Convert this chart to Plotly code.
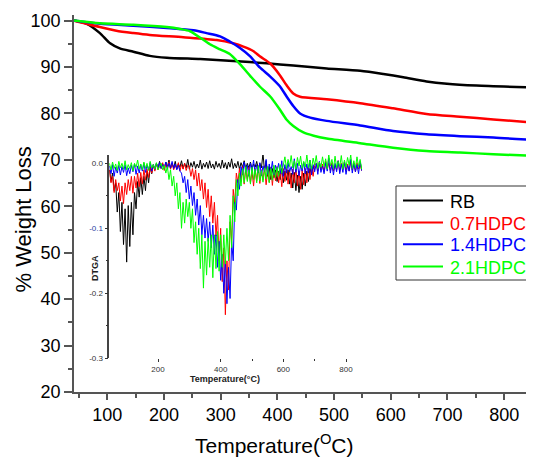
import plotly.graph_objects as go

# ---------------- main TGA curves ----------------
rb_temp = [41, 64, 87, 105, 122, 146, 175, 205, 264, 322, 381, 428, 487, 546, 587, 622, 663, 699, 751, 846]
rb_wt = [100, 99.3, 97.3, 95.1, 94.0, 93.3, 92.4, 92.0, 91.7, 91.3, 90.8, 90.3, 89.7, 89.2, 88.5, 87.8, 86.9, 86.4, 86.0, 85.6]

h07_temp = [41, 87, 116, 146, 175, 234, 293, 322, 340, 358, 369, 387, 404, 416, 428, 440, 487, 546, 604, 663, 722, 781, 846]
h07_wt = [100, 98.6, 97.8, 97.3, 96.9, 96.4, 95.8, 95.1, 94.4, 93.4, 92.3, 90.8, 88.3, 86.1, 84.3, 83.6, 83.05, 82.2, 81.1, 79.9, 79.3, 78.7, 78.1]

h14_temp = [41, 87, 146, 205, 252, 275, 299, 316, 334, 352, 369, 387, 404, 416, 428, 440, 458, 487, 546, 604, 663, 722, 781, 846]
h14_wt = [100, 99.3, 98.9, 98.4, 97.9, 97.3, 96.6, 95.5, 94.1, 92.3, 89.9, 88.0, 85.9, 83.7, 81.6, 80.0, 79.1, 78.4, 77.4, 76.2, 75.5, 75.1, 74.8, 74.3]

h21_temp = [41, 87, 146, 205, 228, 246, 264, 281, 299, 316, 334, 352, 369, 387, 404, 416, 428, 446, 464, 487, 546, 604, 663, 722, 781, 846]
h21_wt = [100, 99.4, 99.1, 98.6, 98.2, 97.7, 96.3, 94.9, 93.8, 92.8, 90.6, 88.1, 85.8, 83.7, 80.9, 78.7, 77.3, 75.9, 75.2, 74.6, 73.6, 72.6, 71.9, 71.6, 71.2, 70.9]

series_names = ["RB", "0.7HDPC", "1.4HDPC", "2.1HDPC"]
series_colors = ["#000000", "#ff0000", "#0000ff", "#00ff00"]

# ---------------- inset DTGA (read in thousandths, noisy signal) ----------------
dtga_temp = list(range(45, 860, 5))  # sampling grid 45..855 °C

dtga_rb_milli = [
    -10, -28, -15, -42, -30, -75, -45, -105, -60, -125, -70, -152, -65, -128, -60, -110, -45, -70, -28, -52,
    -22, -48, -20, -42, -12, -30, -6, -16, -2, -10,
    0, -8, 3, -7, -1, -9, 2, -6, 5, -8, 0, -7, 3, -9, -1, -6, 4, -8, 0, -7,
    6, -9, 1, -6, 3, -8, -1, -7, 5, -9, 0, -6, 2, -8, 4, -7, -1, -9, 3, -6,
    0, -8, 5, -7, 1, -9, 2, -6, 7, -8, 0, -7, 3, -9, 1, -6, 4, -8, 0, -7,
    2, -9, -1, -6, 3, -8, 0, -7,
    15, -12, 4, -20, -5, -25, -8, -22, -10, -28, -12, -25, -8, -30, -12, -26, -10, -32, -15, -38,
    -14, -42, -18, -45, -20, -40, -15, -35, -12, -28, -8, -18, -5, -10,
]
dtga_h07_milli = [
    -10, -30, -20, -45, -25, -42, -30, -58, -35, -62, -30, -48, -25, -42, -20, -46, -20, -38, -15, -36,
    -14, -32, -10, -26, -9, -22, -5, -15, -3, -12,
    0, -10, -2, -8, 1, -11, -1, -7, 2, -9, 0, -10, -3, -8, 1, -12, -2, -9, 0, -11, -3,
    -5, -20, -8, -25, -10, -35, -15, -42, -25, -55, -30, -68, -40, -82, -50, -92, -60, -112, -80, -150,
    -100, -182, -130, -233, -150, -195, -90, -120, -40, -62, -15, -30,
    -8, -28, -5, -32, -10, -25, -6, -30, -12, -35, -8, -27, -4, -31, -10, -26, -7, -33, -11, -29,
    -6, -34, -9, -27, -5, -30, -12, -36, -8, -28, -6, -32, -10, -38, -9, -30, -7, -35, -12, -40,
    -10, -33, -8, -30, -6, -25, -5, -20, -3,
    0, -12, 2, -10, -1, -13, 3, -9, 0, -11, 1, -12, -2, -10, 4, -13, 0, -9, 2, -11,
    -1, -12, 3, -10, 0, -13, 1, -9, -2, -11, 0,
]
dtga_h14_milli = [
    -4, -16, -2, -20, -6, -15, -3, -18, -5, -14, -2, -19, -7, -16, -3, -13, -1, -17, -4, -15,
    -2, -12, 0, -14, -3, -10, 1, -12, -2, -9, 0,
    -7, 1, -8, -2, -6, 2, -9, 0, -7, 3, -8, -1, -10, -3, -12,
    -15, -30, -20, -45, -25, -55, -35, -65, -45, -80, -55, -95, -65, -110, -80, -115, -85, -120, -90, -130,
    -95, -140, -110, -160, -120, -180, -140, -200, -150, -216, -160, -208, -120, -150, -60, -72, -25, -40,
    -5, -18, 2, -14, -3, -20, 0, -12, 5, -16, -2, -15, 1, -19, -4, -13, 6, -17, -1, -14,
    3, -18, -3, -12, 0, -16, 4, -20, -2, -15, 1, -13, -5, -17, 7, -14, 0, -19, -3, -12,
    2, -16, -1, -15, 5, -18, -2, -13, 0, -17, 3, -14, -4, -16, 1, -12, 8, -15, -2, -18,
    0, -13, 4, -16, -1, -14, 2, -17, -3, -12, 6, -15, 0, -13, -2, -16, 3, -11, -1,
]
dtga_h21_milli = [
    0, -10, 2, -8, -1, -11, 3, -7, 0, -9, 4, -10, -2, -8, 1, -12, 0, -6, 5, -9,
    -1, -10, 2, -8, 0, -11, 3, -7, -2, -9, 1, -10,
    -5, 0, -10, -3, -15, -5, -25, -10, -35, -20, -50, -30, -70, -45, -100, -60, -92, -55, -82, -60,
    -100, -70, -122, -90, -140, -100, -162, -110, -192, -120, -172, -115, -160, -110, -176, -110, -162, -105, -166, -110,
    -160, -110, -155, -100, -150, -80, -130, -50, -90, -25,
    -50, -15, -35, -8, -30, -5, -28, -10, -32, -6, -25, -9, -30, -4, -27, -11, -29, -7, -24, -5,
    -30, -8, -26, -3, -22, -6, -20, -2, -15, -1,
    10, -8, 6, -5, 12, -7, 4, -9, 9, -4, 11, -8, 3, -6, 13, -7, 5, -9, 8, -3,
    12, -8, 2, -6, 10, -5, 7, -9, 14, -4, 6, -8, 11, -7, 3, -5, 12, -9, 5, -6,
    9, -3, 13, -8, 4, -7, 10, -5, 6, -9, 8,
]

main_temps = [rb_temp, h07_temp, h14_temp, h21_temp]
main_wts = [rb_wt, h07_wt, h14_wt, h21_wt]
dtga_all = [dtga_rb_milli, dtga_h07_milli, dtga_h14_milli, dtga_h21_milli]

FONT = "Arial, Liberation Sans, sans-serif"
OFF = 8  # page body margin of the browser
W, H = 534 - OFF, 459 - OFF
ML, MR, MT, MB = 74 - OFF, 3, 15 - OFF, 67
PW = W - ML - MR
PH = H - MT - MB


def px_x(px):
    """reference-screen pixel x -> paper x"""
    return (px - OFF - ML) / PW


def px_y(py):
    """reference-screen pixel y -> paper y"""
    return (H - MB - (py - OFF)) / PH


fig = go.Figure()

for name, color, vals in zip(series_names, series_colors, dtga_all):
    fig.add_trace(go.Scatter(
        x=dtga_temp[:len(vals)], y=[v / 1000 for v in vals],
        mode="lines", line=dict(color=color, width=1),
        xaxis="x2", yaxis="y2", showlegend=False, hoverinfo="skip",
    ))

for name, color, t, w in zip(series_names, series_colors, main_temps, main_wts):
    fig.add_trace(go.Scatter(
        x=t, y=w, mode="lines", name=name, showlegend=False,
        line=dict(color=color, width=2.5, shape="spline", smoothing=0.7),
    ))

axis_col = "#555555"

fig.update_layout(
    width=W, height=H,
    margin=dict(l=ML, r=MR, t=MT, b=MB, autoexpand=False),
    paper_bgcolor="white", plot_bgcolor="white",
    font=dict(family=FONT, color="black"),
    showlegend=False,
    xaxis=dict(
        range=[41.3, 847.3], showgrid=False, zeroline=False,
        showline=True, linecolor=axis_col, linewidth=1.5,
        ticks="outside", ticklen=6, tickwidth=1.5, tickcolor=axis_col,
        tickvals=[100, 200, 300, 400, 500, 600, 700, 800],
        tickfont=dict(size=18, family=FONT),
        minor=dict(tickvals=[50, 150, 250, 350, 450, 550, 650, 750, 850], ticks="outside",
                   ticklen=4, tickwidth=1.5, tickcolor=axis_col),
    ),
    yaxis=dict(
        range=[20, 101.2], showgrid=False, zeroline=False,
        showline=True, linecolor=axis_col, linewidth=1.5,
        ticks="outside", ticklen=8, tickwidth=1.5, tickcolor=axis_col,
        tickvals=[20, 30, 40, 50, 60, 70, 80, 90, 100],
        tickfont=dict(size=18, family=FONT),
        minor=dict(tickvals=[25, 35, 45, 55, 65, 75, 85, 95], ticks="outside",
                   ticklen=4, tickwidth=1.5, tickcolor=axis_col),
    ),
    xaxis2=dict(
        domain=[px_x(109.3), px_x(362)], range=[44.6, 851], anchor="y2",
        showgrid=False, zeroline=False, showline=False,
        ticks="outside", ticklen=3, tickwidth=1, tickcolor="#333",
        tickvals=[200, 400, 600, 800], ticktext=["200", "400", "600", "800"],
        tickfont=dict(size=8, family=FONT, color="#333"),
        minor=dict(tickvals=[500, 700], ticks="outside", ticklen=2, tickwidth=1, tickcolor="#333"),
    ),
    yaxis2=dict(
        domain=[px_y(358.3), px_y(155)], range=[-0.3, 0.0128], anchor="x2",
        showgrid=False, zeroline=False,
        showline=True, linecolor="#444", linewidth=1.5,
        ticks="outside", ticklen=3, tickwidth=1, tickcolor="#333",
        tickvals=[0, -0.1, -0.2, -0.3],
        ticktext=["0.0", '<span style="color:#1f3f9f">-0.1</span>', "-0.2", "-0.3"],
        tickfont=dict(size=8, family=FONT, color="#333"),
        minor=dict(tickvals=[-0.05, -0.15, -0.25], ticks="outside", ticklen=2, tickwidth=1, tickcolor="#333"),
    ),
)

annotations = [
    dict(text="% Weight Loss", x=px_x(23), y=px_y(219.5), xref="paper", yref="paper",
         textangle=-90, showarrow=False, font=dict(size=22, family=FONT, color="black"),
         xanchor="center", yanchor="middle"),
    dict(text="Temperature(<sup>O</sup>C)", x=px_x(274), y=px_y(444), xref="paper", yref="paper",
         showarrow=False, font=dict(size=21, family=FONT, color="black"),
         xanchor="center", yanchor="middle"),
    dict(text="<b>DTGA</b>", x=px_x(95), y=px_y(268), xref="paper", yref="paper",
         textangle=-90, showarrow=False, font=dict(size=9, family=FONT, color="#222"),
         xanchor="center", yanchor="middle"),
    dict(text="<b>Temperature(°C)</b>", x=px_x(225), y=px_y(379), xref="paper", yref="paper",
         showarrow=False, font=dict(size=9, family=FONT, color="#222"),
         xanchor="center", yanchor="middle"),
]

# ---------------- legend box (drawn to match the reference layout) ----------------
shapes = [dict(type="rect", xref="paper", yref="paper",
               x0=px_x(396), x1=px_x(530), y0=px_y(280), y1=px_y(186),
               line=dict(color="#333", width=1), fillcolor="white", layer="above")]
legend_rows = [200.5, 222.5, 244.3, 266.5]
for name, color, ry in zip(series_names, series_colors, legend_rows):
    shapes.append(dict(type="line", xref="paper", yref="paper",
                       x0=px_x(403), x1=px_x(443), y0=px_y(ry), y1=px_y(ry),
                       line=dict(color=color, width=2), layer="above"))
    annotations.append(dict(text=name, x=px_x(448), y=px_y(ry + 1), xref="paper", yref="paper",
                            showarrow=False, xanchor="left", yanchor="middle",
                            font=dict(size=18, family=FONT, color=color)))

fig.update_layout(annotations=annotations, shapes=shapes)

fig.write_html("out.html")
